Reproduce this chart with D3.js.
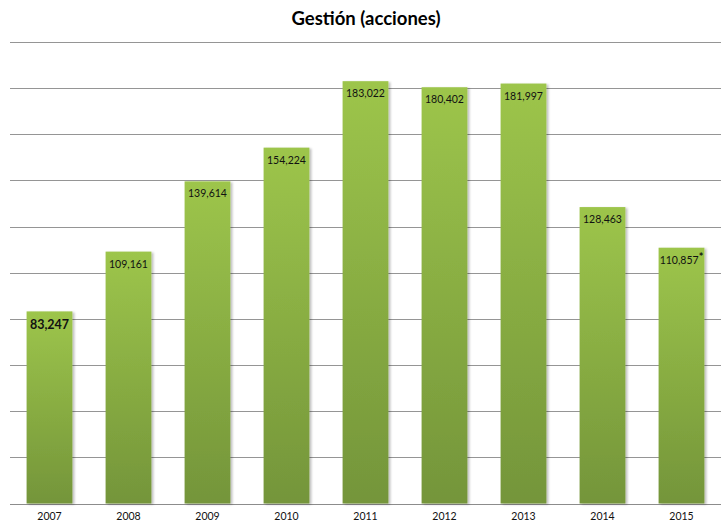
<!DOCTYPE html>
<html>
<head>
<meta charset="utf-8">
<script src="https://cdn.jsdelivr.net/npm/d3@7/dist/d3.min.js"></script>
<style>
  html, body { margin: 0; padding: 0; background: #fff; }
  svg { display: block; font-family: Lato, "Open Sans", sans-serif; }
</style>
</head>
<body>
<svg id="chart" width="721" height="522"></svg>
<script>
const years = ["2007", "2008", "2009", "2010", "2011", "2012", "2013", "2014", "2015"];
const acciones = [83247, 109161, 139614, 154224, 183022, 180402, 181997, 128463, 110857];
const valueLabels = ["83,247", "109,161", "139,614", "154,224", "183,022", "180,402", "181,997", "128,463", "110,857"];
const gridTicks = [0, 20000, 40000, 60000, 80000, 100000, 120000, 140000, 160000, 180000, 200000];

const svg = d3.select("#chart");
const margin = { top: 42, right: 0, bottom: 18.5, left: 10 };
const W = 721, H = 522;

const x = d3.scaleBand().domain(years).range([margin.left, W - margin.right]).paddingInner(0.42).paddingOuter(0.21);
const y = d3.scaleLinear().domain([0, 200000]).range([H - margin.bottom, margin.top]);

const defs = svg.append("defs");
const grad = defs.append("linearGradient").attr("id", "barGrad").attr("x1", 0).attr("y1", 0).attr("x2", 0).attr("y2", 1);
grad.append("stop").attr("offset", "0%").attr("stop-color", "#9dc54b");
grad.append("stop").attr("offset", "100%").attr("stop-color", "#74953a");

const shadow = defs.append("filter").attr("id", "shadow").attr("x", "-10%").attr("y", "-10%").attr("width", "130%").attr("height", "130%");
shadow.append("feDropShadow").attr("dx", 2).attr("dy", 1).attr("stdDeviation", 1.2).attr("flood-color", "#000").attr("flood-opacity", 0.25);

// horizontal gridlines
svg.append("g")
  .selectAll("line")
  .data(gridTicks)
  .join("line")
  .attr("x1", margin.left)
  .attr("x2", W)
  .attr("y1", d => Math.round(y(d)) + 0.5)
  .attr("y2", d => Math.round(y(d)) + 0.5)
  .attr("stroke", d => d === 0 ? "#8c8c8c" : "#959595")
  .attr("stroke-width", 1);

// bars
svg.append("g")
  .selectAll("rect")
  .data(acciones)
  .join("rect")
  .attr("x", (d, i) => x(years[i]))
  .attr("y", d => y(d))
  .attr("width", x.bandwidth())
  .attr("height", d => y(0) - y(d))
  .attr("fill", "url(#barGrad)")
  .attr("filter", "url(#shadow)");

// value labels inside the top of each bar
const labels = svg.append("g")
  .selectAll("text")
  .data(acciones)
  .join("text")
  .attr("x", (d, i) => x(years[i]) + x.bandwidth() / 2)
  .attr("y", (d, i) => y(d) + (i === 0 ? 18 : 16))
  .attr("text-anchor", "middle")
  .attr("font-size", (d, i) => i === 0 ? 12.5 : 10.5)
  .attr("font-weight", (d, i) => i === 0 ? "bold" : "normal")
  .attr("fill", "#111")
  .text((d, i) => valueLabels[i]);

labels.filter((d, i) => i === acciones.length - 1)
  .append("tspan")
  .attr("dy", -3)
  .attr("font-size", 11)
  .attr("font-weight", "bold")
  .text("*");

// x axis labels
svg.append("g")
  .selectAll("text")
  .data(years)
  .join("text")
  .attr("x", d => x(d) + x.bandwidth() / 2)
  .attr("y", 520)
  .attr("text-anchor", "middle")
  .attr("font-size", 10.5)
  .attr("fill", "#111")
  .text(d => d);

// title
svg.append("text")
  .attr("x", 366)
  .attr("y", 25)
  .attr("text-anchor", "middle")
  .attr("font-size", 18.5)
  .attr("font-weight", "bold")
  .attr("fill", "#000")
  .text("Gestión (acciones)");
</script>
</body>
</html>
